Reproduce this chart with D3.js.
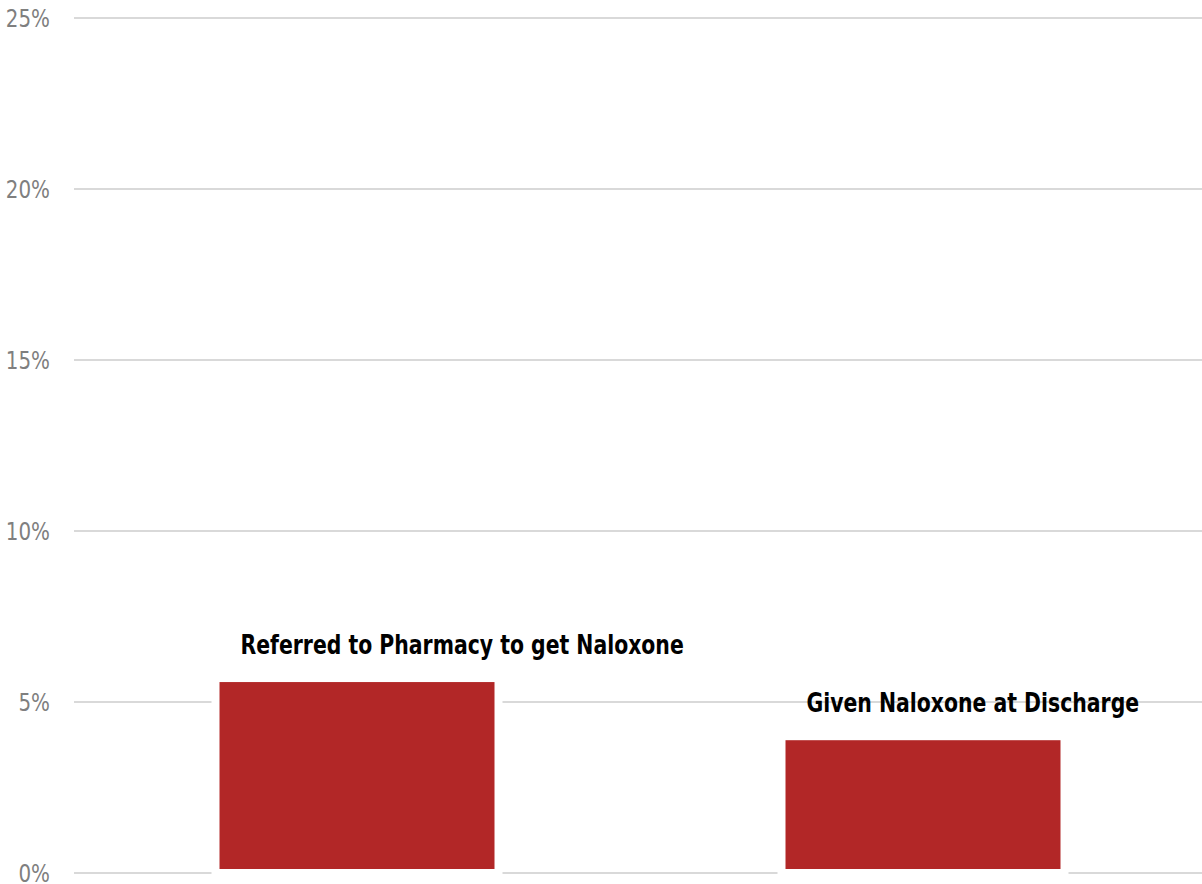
<!DOCTYPE html>
<html>
<head>
<meta charset="utf-8">
<script src="https://cdn.jsdelivr.net/npm/d3@7"></script>
<style>
  body { margin: 0; background: #fff; }
  svg { display: block; }
</style>
</head>
<body>
<svg id="chart" width="1202" height="884"></svg>
<script>
// data
const categories = ["Referred to Pharmacy to get Naloxone", "Given Naloxone at Discharge"];
const values = [5.7, 4.0];
const yTicks = [0, 5, 10, 15, 20, 25];

const width = 1202, height = 884;
const margin = { top: 18, right: -4, bottom: 11, left: 74 };
const font = "'DejaVu Sans Condensed', 'Liberation Sans', sans-serif";

const svg = d3.select("#chart");

const x = d3.scaleBand()
    .domain(categories)
    .range([margin.left, width - margin.right])
    .paddingInner(0.5)
    .paddingOuter(0.25);

const y = d3.scaleLinear()
    .domain([0, 25])
    .range([height - margin.bottom, margin.top]);

// squeeze glyphs horizontally so the text looks like the narrow original font
function squeeze(sel, factor) {
    sel.each(function () {
        const w = this.getComputedTextLength();
        d3.select(this)
            .attr("textLength", w * factor)
            .attr("lengthAdjust", "spacingAndGlyphs");
    });
}

// gridlines
svg.append("g")
    .selectAll("line")
    .data(yTicks)
    .join("line")
    .attr("x1", margin.left)
    .attr("x2", width)
    .attr("y1", d => y(d))
    .attr("y2", d => y(d))
    .attr("stroke", "#d9d9d9")
    .attr("stroke-width", 2);

// tick labels
svg.append("g")
    .selectAll("text")
    .data(yTicks)
    .join("text")
    .attr("x", 50)
    .attr("y", d => y(d))
    .attr("dy", "0.36em")
    .attr("text-anchor", "end")
    .attr("font-family", font)
    .attr("font-size", 24)
    .attr("fill", "#7f7f7f")
    .text(d => d + "%")
    .call(squeeze, 0.92);

// bars, white outline cuts the gridlines like the original
svg.append("g")
    .selectAll("rect")
    .data(values)
    .join("rect")
    .attr("x", (d, i) => x(categories[i]))
    .attr("y", d => y(d))
    .attr("width", x.bandwidth())
    .attr("height", d => y(0) - y(d))
    .attr("fill", "#b22727")
    .attr("stroke", "#fff")
    .attr("stroke-width", 8);

// category labels above the bars
svg.append("g")
    .selectAll("text")
    .data(values)
    .join("text")
    .attr("x", (d, i) => x(categories[i]) + 25)
    .attr("y", d => y(d) - 24)
    .attr("font-family", font)
    .attr("font-weight", "bold")
    .attr("font-size", 27)
    .attr("fill", "#000")
    .text((d, i) => categories[i])
    .call(squeeze, 0.84);
</script>
</body>
</html>
